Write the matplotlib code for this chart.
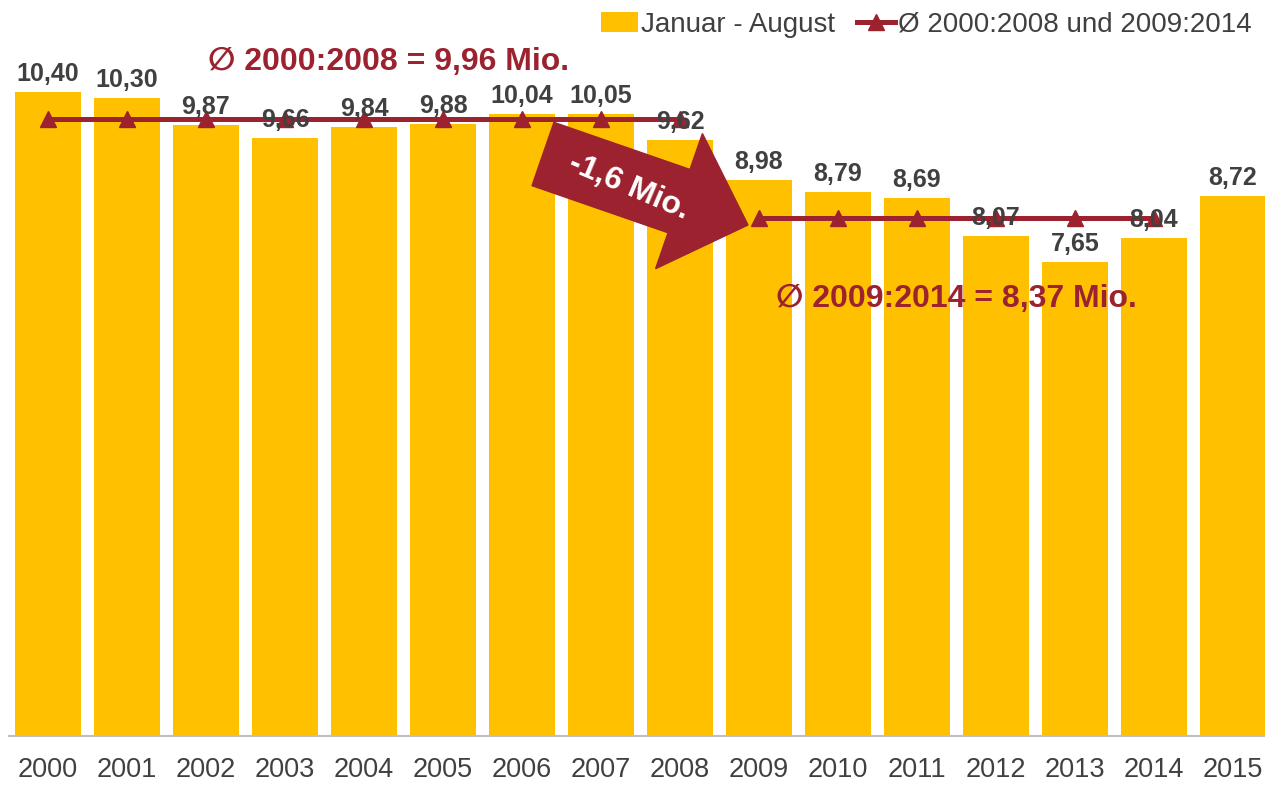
import matplotlib
matplotlib.use("Agg")
import matplotlib.pyplot as plt
from matplotlib.patches import FancyArrow, Patch
from matplotlib.lines import Line2D
import numpy as np

years = ["2000", "2001", "2002", "2003", "2004", "2005", "2006", "2007",
         "2008", "2009", "2010", "2011", "2012", "2013", "2014", "2015"]
values = [10.40, 10.30, 9.87, 9.66, 9.84, 9.88, 10.04, 10.05,
          9.62, 8.98, 8.79, 8.69, 8.07, 7.65, 8.04, 8.72]
avg1_years = years[0:9]
avg1_value = 9.96
avg2_years = years[9:15]
avg2_value = 8.37
bar_label = "Januar - August"
line_label = "Ø 2000:2008 und 2009:2014"
avg1_text = "∅ 2000:2008 = 9,96 Mio."
avg2_text = "∅ 2009:2014 = 8,37 Mio."
arrow_text = "-1,6 Mio."

YELLOW = "#FFC000"
RED = "#9B222E"
GRAY = "#404040"
FONT = ["Liberation Sans", "DejaVu Sans"]
plt.rcParams["font.family"] = FONT

W, H = 1265, 785
fig = plt.figure(figsize=(W / 100, H / 100), dpi=100)
ax = fig.add_axes([8.5 / W, 49 / H, (W - 8.5) / W, 736 / H])

x = np.arange(len(years))
ax.bar(x, values, width=0.84, color=YELLOW, zorder=1)

idx1 = [years.index(y) for y in avg1_years]
idx2 = [years.index(y) for y in avg2_years]
line_kw = dict(color=RED, lw=3.6, marker="^", ms=11.5, zorder=3)
ax.plot(idx1, [avg1_value] * len(idx1), label=line_label, **line_kw)
ax.plot(idx2, [avg2_value] * len(idx2), **line_kw)

for xi, v in zip(x, values):
    ax.annotate(f"{v:.2f}".replace(".", ","), (xi, v), xytext=(0, 8),
                textcoords="offset points", ha="center", va="baseline",
                fontsize=18, fontweight="bold", color=GRAY, zorder=6)

ax.set_xlim(-0.5, (W - 48) / 79)
ax.set_ylim(0, 736 / 61.92)
ax.set_xticks(x)
ax.set_xticklabels(years, fontsize=19.5, color=GRAY)
ax.tick_params(axis="x", length=0, pad=15)
ax.set_yticks([])
for s in ["left", "right", "top"]:
    ax.spines[s].set_visible(False)
ax.spines["bottom"].set_color("#BFBFBF")
ax.spines["bottom"].set_linewidth(1.5)

# average annotations
ax.text((208 - 48) / 79, (736 - 70) / 61.92, avg1_text, ha="left", va="baseline",
        fontsize=23, fontweight="bold", color=RED, zorder=6)
ax.text((776 - 48) / 79, (736 - 307) / 61.92, avg2_text, ha="left", va="baseline",
        fontsize=23, fontweight="bold", color=RED, zorder=6)

# decrease arrow (in inches, figure space)
arr = FancyArrow(5.43, (H - 154) / 100, 2.05, -0.71, width=0.67, head_width=1.43,
                 head_length=0.73, length_includes_head=True, color=RED,
                 transform=fig.dpi_scale_trans, zorder=5)
ax.add_artist(arr)
arr.set_clip_on(False)
fig.text(6.29, (H - 187) / 100, arrow_text, transform=fig.dpi_scale_trans,
         rotation=-23, ha="center", va="center", fontsize=23,
         fontweight="bold", color="white", zorder=7)

# legend
handles = [Patch(facecolor=YELLOW, edgecolor="none"),
           Line2D([], [], **line_kw)]
leg = fig.legend(handles, [bar_label, line_label], loc="upper right",
                 bbox_to_anchor=(1257 / W, 1 - 6 / H), ncol=2, frameon=False,
                 fontsize=20, handlelength=1.35, handletextpad=0.1,
                 columnspacing=0.8, borderaxespad=0, borderpad=0.2)
for t in leg.get_texts():
    t.set_color(GRAY)

fig.savefig("out.png", dpi=100)
